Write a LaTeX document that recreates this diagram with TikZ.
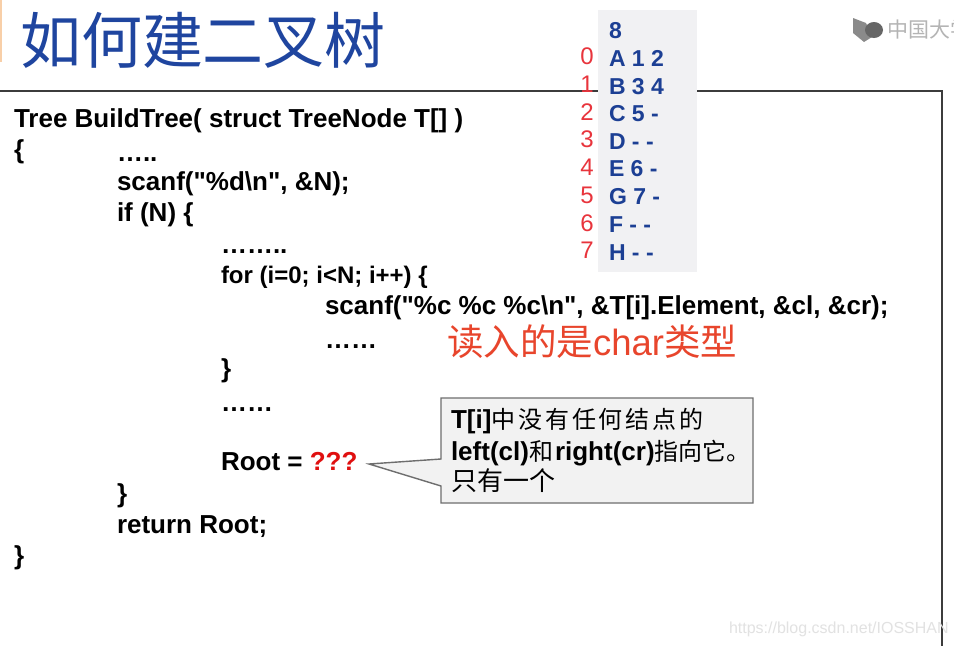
\documentclass[tikz,border=0pt]{standalone}
\usepackage{fontspec}
\setmainfont{Liberation Sans}
\newfontfamily\cjk{Noto Sans CJK SC}
\newfontfamily\cjkspaced[LetterSpace=12]{Noto Sans CJK SC}
\definecolor{titleblue}{HTML}{1F459F}
\definecolor{tableblue}{HTML}{1C3F94}
\definecolor{indexred}{HTML}{E8343C}
\definecolor{notered}{HTML}{E8452C}
\definecolor{codered}{HTML}{E01010}
\definecolor{panelgray}{HTML}{F1F1F3}
\definecolor{calloutfill}{HTML}{F2F2F2}
\definecolor{calloutline}{HTML}{6E6E6E}
\definecolor{frameline}{HTML}{3C3C3C}
\definecolor{logogray}{HTML}{8A8A8A}
\definecolor{logodark}{HTML}{666666}
\definecolor{logotext}{HTML}{B4B4B4}
\definecolor{markgray}{HTML}{E2E2E2}
\definecolor{edgeorange}{HTML}{F8CFA8}
\newcommand{\qt}{\XeTeXglyph\XeTeXcharglyph"22\relax}
\tikzset{
  x=1pt,y=-1pt,
  txt/.style={anchor=base west,inner sep=0pt,outer sep=0pt},
  code/.style={txt,yshift=-1pt,font=\fontsize{26}{26}\selectfont\bfseries,text=black},
  row/.style={txt,font=\fontsize{23}{23}\selectfont\bfseries,text=tableblue},
  idx/.style={txt,anchor=base,font=\fontsize{24}{24}\selectfont,text=indexred},
  calltext/.style={txt,font=\fontsize{24}{24}\selectfont,text=black},
  frame/.style={draw=frameline,line width=1.8pt},
}
\begin{document}
\begin{tikzpicture}
\useasboundingbox (0,0) rectangle (954,646);
\fill[white] (0,0) rectangle (954,646);
\fill[edgeorange] (0,0) rectangle (1.5,62);
% title
\node[txt,font=\fontsize{61}{61}\selectfont\cjk,text=titleblue] (title) at (20,63) {如何建二叉树};
% logo
\fill[logogray] (853,18) -- (866,23) -- (872,37) -- (864,42) -- (853,33) -- cycle;
\fill[logodark] (874,30) ellipse [x radius=9,y radius=8];
\begin{scope}
\clip (880,10) rectangle (954,50);
\node[txt,font=\fontsize{21}{21}\selectfont\cjk,text=logotext] (logo) at (887,37) {中国大学};
\end{scope}
% frame
\coordinate (fa) at (0,91);
\coordinate (fb) at (942,91);
\coordinate (fc) at (942,646);
\draw[frame] (fa) -- (fb) -- (fc);
% code
\node[code] (c1) at (14,126) {Tree BuildTree( struct TreeNode T[] )};
\node[code] (c2) at (14,157) {\{};
\node[code] (c3) at (117,160) {…..};
\node[code] (c4) at (117,189) {scanf(\qt\%d\textbackslash n\qt, \&N);};
\node[code] (c5) at (117,220) {if (N) \{};
\node[code] (c6) at (221,252) {……..};
\node[code,font=\fontsize{24}{24}\selectfont\bfseries] (c7) at (221,282) {for (i=0; i<N; i++) \{};
\node[code] (c8) at (325,313) {scanf(\qt\%c \%c \%c\textbackslash n\qt, \&T[i].Element, \&cl, \&cr);};
\node[code] (c9) at (325,347) {……};
\node[code] (c10) at (221,376) {\}};
\node[code] (c11) at (221,410) {……};
\node[code] (c12) at (221,469) {Root = \textcolor{codered}{???}};
\node[code] (c13) at (117,501) {\}};
\node[code] (c14) at (117,532) {return Root;};
\node[code] (c15) at (14,563) {\}};
% red note
\node[txt,font=\fontsize{36.5}{36.5}\selectfont,text=notered] (note) at (447,355) {{\cjk 读入的是}char{\cjk 类型}};
% callout
\coordinate (tip) at (369,464);
\draw[draw=calloutline,fill=calloutfill,line width=1.4pt,line join=miter]
  (441,398) -- (753,398) -- (753,503) -- (441,503) -- (441,486) -- (tip) -- (441,459) -- cycle;
\node[calltext] (k1) at (451,428) {\fontsize{26}{26}\selectfont\textbf{T[i]}\fontsize{24}{24}\selectfont{\cjkspaced 中没有任何结点的}};
\node[calltext] (k2) at (451,460) {\fontsize{26}{26}\selectfont\textbf{left(cl)}{\fontsize{24}{24}\selectfont\cjk 和}\hspace{2pt}\textbf{right(cr)}{\fontsize{24}{24}\selectfont\cjk 指向它。}};
\node[calltext,font=\fontsize{26}{26}\selectfont] (k3) at (451,490) {{\cjk 只有一个}};
% table panel
\fill[panelgray] (598,10) rectangle (697,272);
\node[row] (r0) at (609,38) {8};
\node[row] (r1) at (609,66) {A 1 2};
\node[row] (r2) at (609,94) {B 3 4};
\node[row] (r3) at (609,121) {C 5 -};
\node[row] (r4) at (609,149) {D - -};
\node[row] (r5) at (609,176) {E 6 -};
\node[row] (r6) at (609,204) {G 7 -};
\node[row] (r7) at (609,232) {F - -};
\node[row] (r8) at (609,260) {H - -};
\node[idx] (i0) at (587,64) {0};
\node[idx] (i1) at (587,92) {1};
\node[idx] (i2) at (587,120) {2};
\node[idx] (i3) at (587,147) {3};
\node[idx] (i4) at (587,175) {4};
\node[idx] (i5) at (587,203) {5};
\node[idx] (i6) at (587,231) {6};
\node[idx] (i7) at (587,258) {7};
% watermark
\node[txt,font=\fontsize{16}{16}\selectfont,text=markgray] (mark) at (729,633) {https://blog.csdn.net/IOSSHAN};
\end{tikzpicture}
\end{document}
